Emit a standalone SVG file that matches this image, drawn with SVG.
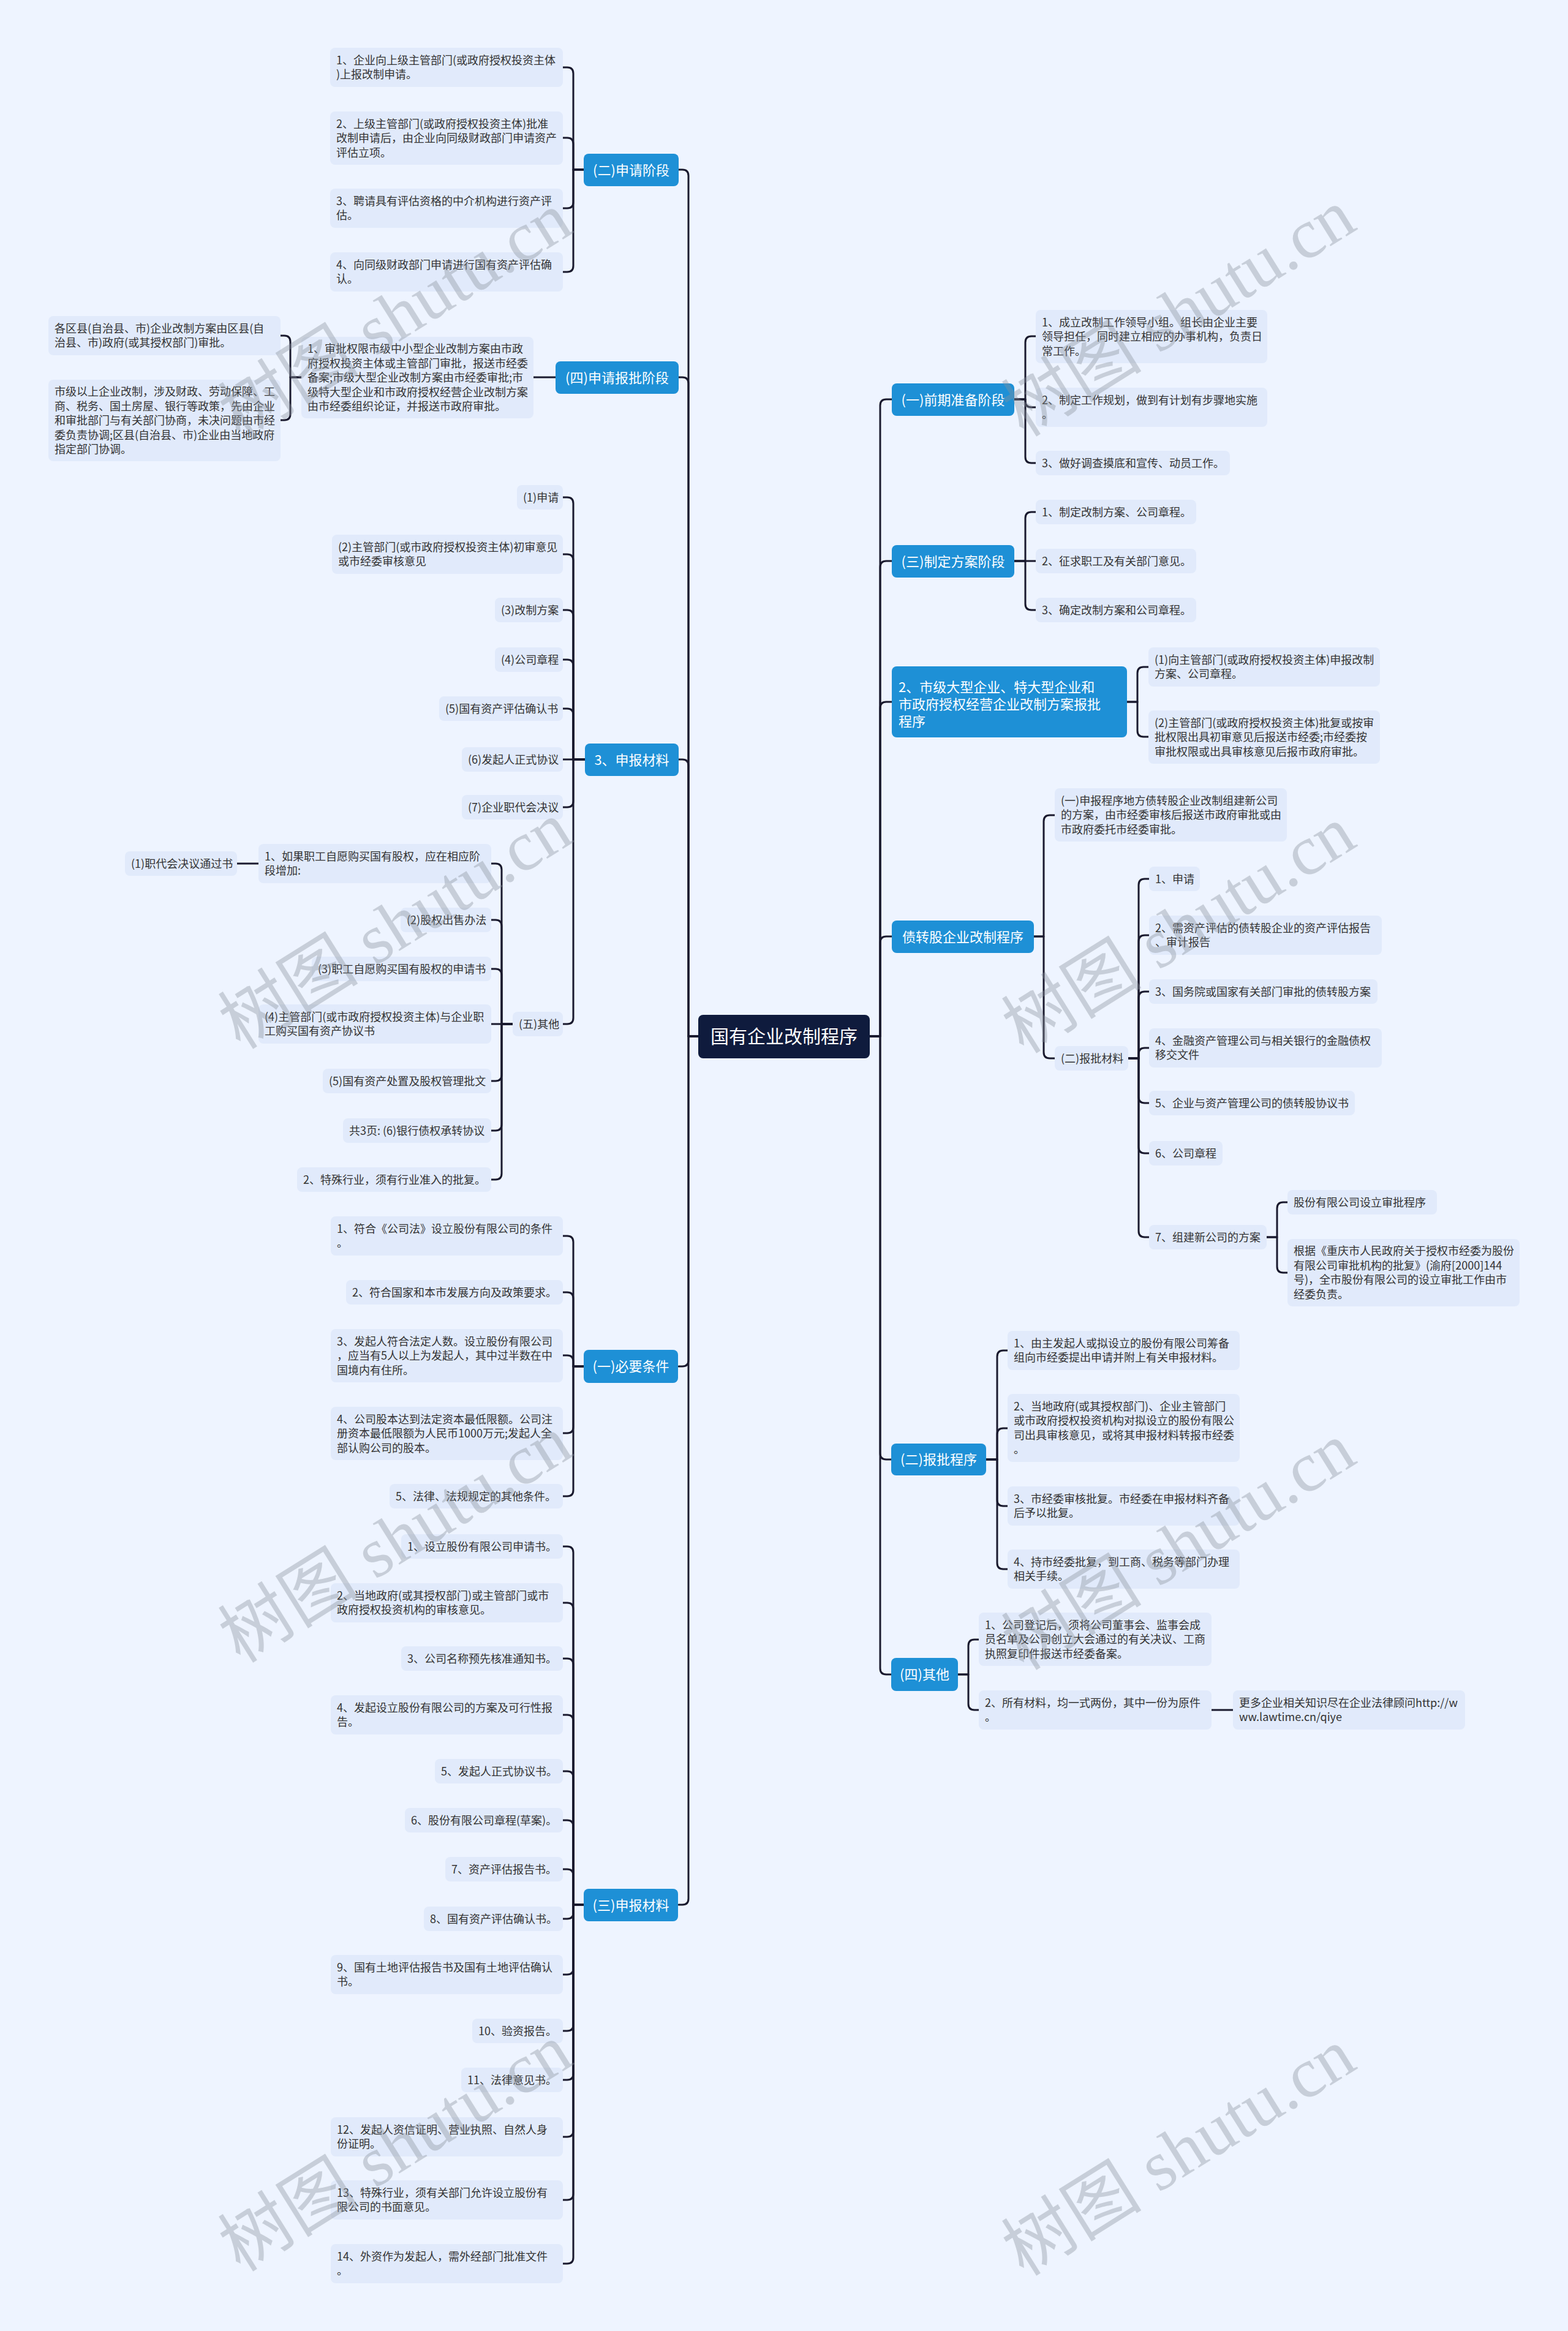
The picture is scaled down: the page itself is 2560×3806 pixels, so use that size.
<svg xmlns="http://www.w3.org/2000/svg" width="2560" height="3806" viewBox="0 0 2560 3806">
<style>
text{font-family:"Noto Sans CJK SC","Noto Sans",sans-serif;}
.leaf rect{fill:#E1EAFB;}
.leaf text{font-size:18px;fill:#333333;}
.main rect{fill:#1E90D6;}
.main text{font-size:22px;fill:#FFFFFF;text-anchor:middle;}
.root rect{fill:#0F1B3D;}
.root text{font-size:30px;fill:#FFFFFF;text-anchor:middle;}
.conn path{fill:none;stroke:#1A1A2E;stroke-width:3;stroke-linecap:round;stroke-linejoin:round;}
.wm text{font-family:"Liberation Serif","Noto Sans CJK SC",serif;font-size:115px;fill:#8A909C;fill-opacity:0.38;text-anchor:middle;}
</style>
<rect x="0" y="0" width="2560" height="3806" fill="#EEF4FF"/>

<g id="connectors" class="conn">
<!-- left trunk -->
<path d="M1140 1692H1124V287Q1124 277 1114 277H1108"/>
<path d="M1140 1692H1124V626Q1124 616 1114 616H1108"/>
<path d="M1140 1692H1124V1250Q1124 1240 1114 1240H1108"/>
<path d="M1140 1692H1124V2221Q1124 2231 1114 2231H1108"/>
<path d="M1140 1692H1124V3100Q1124 3110 1114 3110H1108"/>
<!-- right trunk -->
<path d="M1420 1692H1437V662Q1437 652 1447 652H1456"/>
<path d="M1420 1692H1437V926Q1437 916 1447 916H1456"/>
<path d="M1420 1692H1437V1156Q1437 1146 1447 1146H1456"/>
<path d="M1420 1692H1437V1539Q1437 1529 1447 1529H1456"/>
<path d="M1420 1692H1437V2373Q1437 2383 1447 2383H1456"/>
<path d="M1420 1692H1437V2724Q1437 2734 1447 2734H1456"/>
<!-- A -->
<path d="M953 277H936V120Q936 110 926 110H919"/>
<path d="M953 277H936V235Q936 225 926 225H919"/>
<path d="M953 277H936V330Q936 340 926 340H919"/>
<path d="M953 277H936V434Q936 444 926 444H919"/>
<!-- B -->
<path d="M907 616H871"/>
<path d="M492 616H474V558Q474 548 464 548H458"/>
<path d="M492 616H474V676Q474 686 464 686H458"/>
<!-- C -->
<path d="M955 1240H936V822Q936 812 926 812H919"/>
<path d="M955 1240H936V915Q936 905 926 905H919"/>
<path d="M955 1240H936V1006Q936 996 926 996H919"/>
<path d="M955 1240H936V1087Q936 1077 926 1077H919"/>
<path d="M955 1240H936V1167Q936 1157 926 1157H919"/>
<path d="M955 1240H919"/>
<path d="M955 1240H936V1308Q936 1318 926 1318H919"/>
<path d="M955 1240H936V1662Q936 1672 926 1672H919"/>
<!-- C8 -->
<path d="M837 1672H819V1420Q819 1410 809 1410H802"/>
<path d="M837 1672H819V1512Q819 1502 809 1502H802"/>
<path d="M837 1672H819V1592Q819 1582 809 1582H802"/>
<path d="M837 1672H802"/>
<path d="M837 1672H819V1755Q819 1765 809 1765H802"/>
<path d="M837 1672H819V1836Q819 1846 809 1846H802"/>
<path d="M837 1672H819V1916Q819 1926 809 1926H802"/>
<path d="M422 1410H387"/>
<!-- D -->
<path d="M953 2231H936V2028Q936 2018 926 2018H919"/>
<path d="M953 2231H936V2120Q936 2110 926 2110H919"/>
<path d="M953 2231H936V2223Q936 2213 926 2213H919"/>
<path d="M953 2231H936V2330Q936 2340 926 2340H919"/>
<path d="M953 2231H936V2433Q936 2443 926 2443H919"/>
<!-- E -->
<path d="M953 3110H936V2535Q936 2525 926 2525H919"/>
<path d="M953 3110H936V2627Q936 2617 926 2617H919"/>
<path d="M953 3110H936V2718Q936 2708 926 2708H919"/>
<path d="M953 3110H936V2810Q936 2800 926 2800H919"/>
<path d="M953 3110H936V2902Q936 2892 926 2892H919"/>
<path d="M953 3110H936V2982Q936 2972 926 2972H919"/>
<path d="M953 3110H936V3062Q936 3052 926 3052H919"/>
<path d="M953 3110H936V3123Q936 3133 926 3133H919"/>
<path d="M953 3110H936V3214Q936 3224 926 3224H919"/>
<path d="M953 3110H936V3306Q936 3316 926 3316H919"/>
<path d="M953 3110H936V3386Q936 3396 926 3396H919"/>
<path d="M953 3110H936V3479Q936 3489 926 3489H919"/>
<path d="M953 3110H936V3582Q936 3592 926 3592H919"/>
<path d="M953 3110H936V3686Q936 3696 926 3696H919"/>
<!-- R1 -->
<path d="M1656 652H1674V559Q1674 549 1684 549H1691"/>
<path d="M1656 652H1674V655Q1674 665 1684 665H1691"/>
<path d="M1656 652H1674V746Q1674 756 1684 756H1691"/>
<!-- R2 -->
<path d="M1656 916H1674V846Q1674 836 1684 836H1691"/>
<path d="M1656 916H1691"/>
<path d="M1656 916H1674V986Q1674 996 1684 996H1691"/>
<!-- R3 -->
<path d="M1840 1146H1857V1099Q1857 1089 1867 1089H1875"/>
<path d="M1840 1146H1857V1193Q1857 1203 1867 1203H1875"/>
<!-- R4 -->
<path d="M1688 1529H1704V1341Q1704 1331 1714 1331H1722"/>
<path d="M1688 1529H1704V1718Q1704 1728 1714 1728H1722"/>
<path d="M1842 1728H1859V1445Q1859 1435 1869 1435H1876"/>
<path d="M1842 1728H1859V1537Q1859 1527 1869 1527H1876"/>
<path d="M1842 1728H1859V1629Q1859 1619 1869 1619H1876"/>
<path d="M1842 1728H1859V1721Q1859 1711 1869 1711H1876"/>
<path d="M1842 1728H1859V1791Q1859 1801 1869 1801H1876"/>
<path d="M1842 1728H1859V1873Q1859 1883 1869 1883H1876"/>
<path d="M1842 1728H1859V2010Q1859 2020 1869 2020H1876"/>
<path d="M2068 2020H2085V1973Q2085 1963 2095 1963H2102"/>
<path d="M2068 2020H2085V2068Q2085 2078 2095 2078H2102"/>
<!-- R5 -->
<path d="M1610 2383H1628V2215Q1628 2205 1638 2205H1645"/>
<path d="M1610 2383H1628V2342Q1628 2332 1638 2332H1645"/>
<path d="M1610 2383H1628V2449Q1628 2459 1638 2459H1645"/>
<path d="M1610 2383H1628V2552Q1628 2562 1638 2562H1645"/>
<!-- R6 -->
<path d="M1564 2734H1581V2687Q1581 2677 1591 2677H1598"/>
<path d="M1564 2734H1581V2782Q1581 2792 1591 2792H1598"/>
<path d="M1978 2792H2013"/>
</g>

<g id="root" class="root"><rect x="1140" y="1657" width="280" height="71" rx="8"/><text x="1280" y="1703">国有企业改制程序</text></g>

<!-- Left: (二)申请阶段 -->
<g id="A" class="main"><rect x="953" y="251" width="155" height="53" rx="8"/><text x="1030.5" y="285.5">(二)申请阶段</text></g>
<g id="A1" class="leaf"><rect x="539" y="78" width="380" height="64" rx="8"/><text x="549" y="104.75">1、企业向上级主管部门(或政府授权投资主体<tspan x="549" dy="23.5">)上报改制申请。</tspan></text></g>
<g id="A2" class="leaf"><rect x="539" y="182" width="380" height="87" rx="8"/><text x="549" y="208.5">2、上级主管部门(或政府授权投资主体)批准<tspan x="549" dy="23.5">改制申请后，由企业向同级财政部门申请资产</tspan><tspan x="549" dy="23.5">评估立项。</tspan></text></g>
<g id="A3" class="leaf"><rect x="539" y="308" width="380" height="64" rx="8"/><text x="549" y="334.75">3、聘请具有评估资格的中介机构进行资产评<tspan x="549" dy="23.5">估。</tspan></text></g>
<g id="A4" class="leaf"><rect x="539" y="412" width="380" height="64" rx="8"/><text x="549" y="438.75">4、向同级财政部门申请进行国有资产评估确<tspan x="549" dy="23.5">认。</tspan></text></g>

<!-- Left: (四)申请报批阶段 -->
<g id="B" class="main"><rect x="907" y="590" width="201" height="53" rx="8"/><text x="1007.5" y="624.5">(四)申请报批阶段</text></g>
<g id="B1" class="leaf"><rect x="492" y="550" width="379" height="133" rx="8"/><text x="502" y="576">1、审批权限市级中小型企业改制方案由市政<tspan x="502" dy="23.5">府授权投资主体或主管部门审批，报送市经委</tspan><tspan x="502" dy="23.5">备案;市级大型企业改制方案由市经委审批;市</tspan><tspan x="502" dy="23.5">级特大型企业和市政府授权经营企业改制方案</tspan><tspan x="502" dy="23.5">由市经委组织论证，并报送市政府审批。</tspan></text></g>
<g id="B1a" class="leaf"><rect x="79" y="516" width="379" height="64" rx="8"/><text x="89" y="542.75">各区县(自治县、市)企业改制方案由区县(自<tspan x="89" dy="23.5">治县、市)政府(或其授权部门)审批。</tspan></text></g>
<g id="B1b" class="leaf"><rect x="79" y="620" width="379" height="133" rx="8"/><text x="89" y="646">市级以上企业改制，涉及财政、劳动保障、工<tspan x="89" dy="23.5">商、税务、国土房屋、银行等政策，先由企业</tspan><tspan x="89" dy="23.5">和审批部门与有关部门协商，未决问题由市经</tspan><tspan x="89" dy="23.5">委负责协调;区县(自治县、市)企业由当地政府</tspan><tspan x="89" dy="23.5">指定部门协调。</tspan></text></g>

<!-- Left: 3、申报材料 -->
<g id="C" class="main"><rect x="955" y="1214" width="153" height="53" rx="8"/><text x="1031.5" y="1248.5">3、申报材料</text></g>
<g id="C1" class="leaf"><rect x="844" y="792" width="75" height="40" rx="8"/><text x="854" y="818.5">(1)申请</text></g>
<g id="C2" class="leaf"><rect x="542" y="873" width="377" height="64" rx="8"/><text x="552" y="899.75">(2)主管部门(或市政府授权投资主体)初审意见<tspan x="552" dy="23.5">或市经委审核意见</tspan></text></g>
<g id="C3" class="leaf"><rect x="808" y="976" width="111" height="40" rx="8"/><text x="818" y="1002.5">(3)改制方案</text></g>
<g id="C4" class="leaf"><rect x="808" y="1057" width="111" height="40" rx="8"/><text x="818" y="1083.5">(4)公司章程</text></g>
<g id="C5" class="leaf"><rect x="717" y="1137" width="202" height="40" rx="8"/><text x="727" y="1163.5">(5)国有资产评估确认书</text></g>
<g id="C6" class="leaf"><rect x="754" y="1220" width="165" height="40" rx="8"/><text x="764" y="1246.5">(6)发起人正式协议</text></g>
<g id="C7" class="leaf"><rect x="754" y="1298" width="165" height="40" rx="8"/><text x="764" y="1324.5">(7)企业职代会决议</text></g>
<g id="C8" class="leaf"><rect x="837" y="1652" width="82" height="40" rx="8"/><text x="847" y="1678.5">(五)其他</text></g>
<g id="C8a" class="leaf"><rect x="422" y="1378" width="380" height="64" rx="8"/><text x="432" y="1404.75">1、如果职工自愿购买国有股权，应在相应阶<tspan x="432" dy="23.5">段增加:</tspan></text></g>
<g id="C8a1" class="leaf"><rect x="204" y="1390" width="183" height="40" rx="8"/><text x="214" y="1416.5">(1)职代会决议通过书</text></g>
<g id="C8b" class="leaf"><rect x="654" y="1482" width="148" height="40" rx="8"/><text x="664" y="1508.5">(2)股权出售办法</text></g>
<g id="C8c" class="leaf"><rect x="509" y="1562" width="293" height="40" rx="8"/><text x="519" y="1588.5">(3)职工自愿购买国有股权的申请书</text></g>
<g id="C8d" class="leaf"><rect x="422" y="1640" width="380" height="64" rx="8"/><text x="432" y="1666.75">(4)主管部门(或市政府授权投资主体)与企业职<tspan x="432" dy="23.5">工购买国有资产协议书</tspan></text></g>
<g id="C8e" class="leaf"><rect x="527" y="1745" width="275" height="40" rx="8"/><text x="537" y="1771.5">(5)国有资产处置及股权管理批文</text></g>
<g id="C8f" class="leaf"><rect x="560" y="1826" width="242" height="40" rx="8"/><text x="570" y="1852.5">共3页: (6)银行债权承转协议</text></g>
<g id="C8g" class="leaf"><rect x="485" y="1906" width="317" height="40" rx="8"/><text x="495" y="1932.5">2、特殊行业，须有行业准入的批复。</text></g>

<!-- Left: (一)必要条件 -->
<g id="D" class="main"><rect x="953" y="2204" width="154" height="54" rx="8"/><text x="1030" y="2239">(一)必要条件</text></g>
<g id="D1" class="leaf"><rect x="540" y="1986" width="379" height="64" rx="8"/><text x="550" y="2012.75">1、符合《公司法》设立股份有限公司的条件<tspan x="550" dy="23.5">。</tspan></text></g>
<g id="D2" class="leaf"><rect x="565" y="2090" width="354" height="40" rx="8"/><text x="575" y="2116.5">2、符合国家和本市发展方向及政策要求。</text></g>
<g id="D3" class="leaf"><rect x="540" y="2170" width="379" height="87" rx="8"/><text x="550" y="2196.5">3、发起人符合法定人数。设立股份有限公司<tspan x="550" dy="23.5">，应当有5人以上为发起人，其中过半数在中</tspan><tspan x="550" dy="23.5">国境内有住所。</tspan></text></g>
<g id="D4" class="leaf"><rect x="540" y="2297" width="379" height="87" rx="8"/><text x="550" y="2323.5">4、公司股本达到法定资本最低限额。公司注<tspan x="550" dy="23.5">册资本最低限额为人民币1000万元;发起人全</tspan><tspan x="550" dy="23.5">部认购公司的股本。</tspan></text></g>
<g id="D5" class="leaf"><rect x="636" y="2423" width="283" height="40" rx="8"/><text x="646" y="2449.5">5、法律、法规规定的其他条件。</text></g>

<!-- Left: (三)申报材料 -->
<g id="E" class="main"><rect x="953" y="3084" width="154" height="53" rx="8"/><text x="1030" y="3118.5">(三)申报材料</text></g>
<g id="E1" class="leaf"><rect x="655" y="2505" width="264" height="40" rx="8"/><text x="665" y="2531.5">1、设立股份有限公司申请书。</text></g>
<g id="E2" class="leaf"><rect x="540" y="2585" width="379" height="64" rx="8"/><text x="550" y="2611.75">2、当地政府(或其授权部门)或主管部门或市<tspan x="550" dy="23.5">政府授权投资机构的审核意见。</tspan></text></g>
<g id="E3" class="leaf"><rect x="655" y="2688" width="264" height="40" rx="8"/><text x="665" y="2714.5">3、公司名称预先核准通知书。</text></g>
<g id="E4" class="leaf"><rect x="540" y="2768" width="379" height="64" rx="8"/><text x="550" y="2794.75">4、发起设立股份有限公司的方案及可行性报<tspan x="550" dy="23.5">告。</tspan></text></g>
<g id="E5" class="leaf"><rect x="710" y="2872" width="209" height="40" rx="8"/><text x="720" y="2898.5">5、发起人正式协议书。</text></g>
<g id="E6" class="leaf"><rect x="661" y="2952" width="258" height="40" rx="8"/><text x="671" y="2978.5">6、股份有限公司章程(草案)。</text></g>
<g id="E7" class="leaf"><rect x="727" y="3032" width="192" height="40" rx="8"/><text x="737" y="3058.5">7、资产评估报告书。</text></g>
<g id="E8" class="leaf"><rect x="692" y="3113" width="227" height="40" rx="8"/><text x="702" y="3139.5">8、国有资产评估确认书。</text></g>
<g id="E9" class="leaf"><rect x="540" y="3192" width="379" height="64" rx="8"/><text x="550" y="3218.75">9、国有土地评估报告书及国有土地评估确认<tspan x="550" dy="23.5">书。</tspan></text></g>
<g id="E10" class="leaf"><rect x="771" y="3296" width="148" height="40" rx="8"/><text x="781" y="3322.5">10、验资报告。</text></g>
<g id="E11" class="leaf"><rect x="753" y="3376" width="166" height="40" rx="8"/><text x="763" y="3402.5">11、法律意见书。</text></g>
<g id="E12" class="leaf"><rect x="540" y="3457" width="379" height="64" rx="8"/><text x="550" y="3483.75">12、发起人资信证明、营业执照、自然人身<tspan x="550" dy="23.5">份证明。</tspan></text></g>
<g id="E13" class="leaf"><rect x="540" y="3560" width="379" height="64" rx="8"/><text x="550" y="3586.75">13、特殊行业，须有关部门允许设立股份有<tspan x="550" dy="23.5">限公司的书面意见。</tspan></text></g>
<g id="E14" class="leaf"><rect x="540" y="3664" width="379" height="64" rx="8"/><text x="550" y="3690.75">14、外资作为发起人，需外经部门批准文件<tspan x="550" dy="23.5">。</tspan></text></g>

<!-- Right: (一)前期准备阶段 -->
<g id="R1" class="main"><rect x="1456" y="626" width="200" height="53" rx="8"/><text x="1556" y="660.5">(一)前期准备阶段</text></g>
<g id="R1a" class="leaf"><rect x="1691" y="506" width="378" height="87" rx="8"/><text x="1701" y="532.5">1、成立改制工作领导小组。组长由企业主要<tspan x="1701" dy="23.5">领导担任，同时建立相应的办事机构，负责日</tspan><tspan x="1701" dy="23.5">常工作。</tspan></text></g>
<g id="R1b" class="leaf"><rect x="1691" y="633" width="378" height="64" rx="8"/><text x="1701" y="659.75">2、制定工作规划，做到有计划有步骤地实施<tspan x="1701" dy="23.5">。</tspan></text></g>
<g id="R1c" class="leaf"><rect x="1691" y="736" width="317" height="40" rx="8"/><text x="1701" y="762.5">3、做好调查摸底和宣传、动员工作。</text></g>

<!-- Right: (三)制定方案阶段 -->
<g id="R2" class="main"><rect x="1456" y="890" width="200" height="53" rx="8"/><text x="1556" y="924.5">(三)制定方案阶段</text></g>
<g id="R2a" class="leaf"><rect x="1691" y="816" width="262" height="40" rx="8"/><text x="1701" y="842.5">1、制定改制方案、公司章程。</text></g>
<g id="R2b" class="leaf"><rect x="1691" y="896" width="262" height="40" rx="8"/><text x="1701" y="922.5">2、征求职工及有关部门意见。</text></g>
<g id="R2c" class="leaf"><rect x="1691" y="976" width="262" height="40" rx="8"/><text x="1701" y="1002.5">3、确定改制方案和公司章程。</text></g>

<!-- Right: 2、市级大型企业... -->
<g id="R3" class="main"><rect x="1456" y="1088" width="384" height="116" rx="8"/><text x="1467" y="1130" style="text-anchor:start">2、市级大型企业、特大型企业和<tspan x="1467" dy="28">市政府授权经营企业改制方案报批</tspan><tspan x="1467" dy="28">程序</tspan></text></g>
<g id="R3a" class="leaf"><rect x="1875" y="1057" width="378" height="64" rx="8"/><text x="1885" y="1083.75">(1)向主管部门(或政府授权投资主体)申报改制<tspan x="1885" dy="23.5">方案、公司章程。</tspan></text></g>
<g id="R3b" class="leaf"><rect x="1875" y="1160" width="378" height="87" rx="8"/><text x="1885" y="1186.5">(2)主管部门(或政府授权投资主体)批复或按审<tspan x="1885" dy="23.5">批权限出具初审意见后报送市经委;市经委按</tspan><tspan x="1885" dy="23.5">审批权限或出具审核意见后报市政府审批。</tspan></text></g>

<!-- Right: 债转股企业改制程序 -->
<g id="R4" class="main"><rect x="1456" y="1503" width="232" height="53" rx="8"/><text x="1572" y="1537.5">债转股企业改制程序</text></g>
<g id="R4a" class="leaf"><rect x="1722" y="1287" width="379" height="87" rx="8"/><text x="1732" y="1313.5">(一)申报程序地方债转股企业改制组建新公司<tspan x="1732" dy="23.5">的方案，由市经委审核后报送市政府审批或由</tspan><tspan x="1732" dy="23.5">市政府委托市经委审批。</tspan></text></g>
<g id="R4b" class="leaf"><rect x="1722" y="1708" width="120" height="40" rx="8"/><text x="1732" y="1734.5">(二)报批材料</text></g>
<g id="R4b1" class="leaf"><rect x="1876" y="1415" width="83" height="40" rx="8"/><text x="1886" y="1441.5">1、申请</text></g>
<g id="R4b2" class="leaf"><rect x="1876" y="1495" width="380" height="64" rx="8"/><text x="1886" y="1521.75">2、需资产评估的债转股企业的资产评估报告<tspan x="1886" dy="23.5">、审计报告</tspan></text></g>
<g id="R4b3" class="leaf"><rect x="1876" y="1599" width="373" height="40" rx="8"/><text x="1886" y="1625.5">3、国务院或国家有关部门审批的债转股方案</text></g>
<g id="R4b4" class="leaf"><rect x="1876" y="1679" width="380" height="64" rx="8"/><text x="1886" y="1705.75">4、金融资产管理公司与相关银行的金融债权<tspan x="1886" dy="23.5">移交文件</tspan></text></g>
<g id="R4b5" class="leaf"><rect x="1876" y="1781" width="336" height="40" rx="8"/><text x="1886" y="1807.5">5、企业与资产管理公司的债转股协议书</text></g>
<g id="R4b6" class="leaf"><rect x="1876" y="1863" width="120" height="40" rx="8"/><text x="1886" y="1889.5">6、公司章程</text></g>
<g id="R4b7" class="leaf"><rect x="1876" y="2000" width="192" height="40" rx="8"/><text x="1886" y="2026.5">7、组建新公司的方案</text></g>
<g id="R4b7a" class="leaf"><rect x="2102" y="1943" width="244" height="40" rx="8"/><text x="2112" y="1969.5">股份有限公司设立审批程序</text></g>
<g id="R4b7b" class="leaf"><rect x="2102" y="2023" width="379" height="110" rx="8"/><text x="2112" y="2049.25">根据《重庆市人民政府关于授权市经委为股份<tspan x="2112" dy="23.5">有限公司审批机构的批复》(渝府[2000]144</tspan><tspan x="2112" dy="23.5">号)，全市股份有限公司的设立审批工作由市</tspan><tspan x="2112" dy="23.5">经委负责。</tspan></text></g>

<!-- Right: (二)报批程序 -->
<g id="R5" class="main"><rect x="1455" y="2357" width="155" height="52" rx="8"/><text x="1532.5" y="2391">(二)报批程序</text></g>
<g id="R5a" class="leaf"><rect x="1645" y="2173" width="379" height="64" rx="8"/><text x="1655" y="2199.75">1、由主发起人或拟设立的股份有限公司筹备<tspan x="1655" dy="23.5">组向市经委提出申请并附上有关申报材料。</tspan></text></g>
<g id="R5b" class="leaf"><rect x="1645" y="2276" width="379" height="111" rx="8"/><text x="1655" y="2302.75">2、当地政府(或其授权部门)、企业主管部门<tspan x="1655" dy="23.5">或市政府授权投资机构对拟设立的股份有限公</tspan><tspan x="1655" dy="23.5">司出具审核意见，或将其申报材料转报市经委</tspan><tspan x="1655" dy="23.5">。</tspan></text></g>
<g id="R5c" class="leaf"><rect x="1645" y="2427" width="379" height="64" rx="8"/><text x="1655" y="2453.75">3、市经委审核批复。市经委在申报材料齐备<tspan x="1655" dy="23.5">后予以批复。</tspan></text></g>
<g id="R5d" class="leaf"><rect x="1645" y="2530" width="379" height="64" rx="8"/><text x="1655" y="2556.75">4、持市经委批复，到工商、税务等部门办理<tspan x="1655" dy="23.5">相关手续。</tspan></text></g>

<!-- Right: (四)其他 -->
<g id="R6" class="main"><rect x="1455" y="2707" width="109" height="54" rx="8"/><text x="1509.5" y="2742">(四)其他</text></g>
<g id="R6a" class="leaf"><rect x="1598" y="2633" width="380" height="87" rx="8"/><text x="1608" y="2659.5">1、公司登记后，须将公司董事会、监事会成<tspan x="1608" dy="23.5">员名单及公司创立大会通过的有关决议、工商</tspan><tspan x="1608" dy="23.5">执照复印件报送市经委备案。</tspan></text></g>
<g id="R6b" class="leaf"><rect x="1598" y="2760" width="380" height="64" rx="8"/><text x="1608" y="2786.75">2、所有材料，均一式两份，其中一份为原件<tspan x="1608" dy="23.5">。</tspan></text></g>
<g id="R6b1" class="leaf"><rect x="2013" y="2760" width="379" height="64" rx="8"/><text x="2023" y="2786.75">更多企业相关知识尽在企业法律顾问http://w<tspan x="2023" dy="23.5">ww.lawtime.cn/qiye</tspan></text></g>

<g id="watermarks" class="wm">
<text x="645" y="555" transform="rotate(-32 645 515)">树图 shutu.cn</text>
<text x="1924" y="550" transform="rotate(-32 1924 510)">树图 shutu.cn</text>
<text x="645" y="1550" transform="rotate(-32 645 1510)">树图 shutu.cn</text>
<text x="1924" y="1557" transform="rotate(-32 1924 1517)">树图 shutu.cn</text>
<text x="645" y="2552" transform="rotate(-32 645 2512)">树图 shutu.cn</text>
<text x="1924" y="2564" transform="rotate(-32 1924 2524)">树图 shutu.cn</text>
<text x="645" y="3546" transform="rotate(-32 645 3506)">树图 shutu.cn</text>
<text x="1924" y="3553" transform="rotate(-32 1924 3513)">树图 shutu.cn</text>
</g>
</svg>
